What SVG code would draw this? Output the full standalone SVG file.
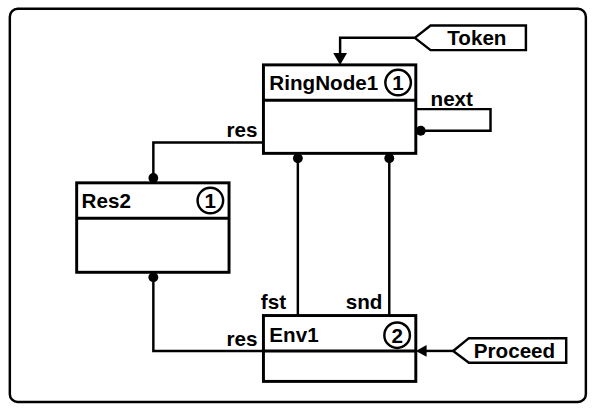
<svg xmlns="http://www.w3.org/2000/svg" width="594" height="411" viewBox="0 0 594 411">
<defs>
<style>
.t{font-family:"Liberation Sans",Arial,sans-serif;font-weight:bold;font-size:21px;fill:#000}
.box{fill:#fff;stroke:#000;stroke-width:3}
.ln{fill:none;stroke:#000;stroke-width:2.5}
.dot{fill:#000}
.circ{fill:none;stroke:#000;stroke-width:2.5}
</style>
</defs>
<rect width="594" height="411" fill="#fff"/>
<g transform="scale(0.983)">
<rect x="10" y="9" width="586" height="400" rx="8" fill="none" stroke="#000" stroke-width="2.5"/>

<g id="connectors">
  <path class="ln" d="M422,38.5 H346 V56"/>
  <polygon points="339,54 353,54 346,66" fill="#000"/>
  <path class="ln" d="M423,111 H499 V133 H428"/>
  <circle class="dot" cx="428" cy="133" r="5"/>
  <path class="ln" d="M268,145 H156 V181"/>
  <circle class="dot" cx="156" cy="181" r="5"/>
  <path class="ln" d="M303,161 V321"/>
  <circle class="dot" cx="303" cy="161" r="5"/>
  <path class="ln" d="M396,161 V321"/>
  <circle class="dot" cx="396" cy="161" r="5"/>
  <path class="ln" d="M156,282 V357 H268"/>
  <circle class="dot" cx="156" cy="282" r="5"/>
  <path class="ln" d="M461,357 H432"/>
  <polygon points="423,357 434,351 434,363" fill="#000"/>
  <text class="t" x="438" y="108">next</text>
  <text class="t" x="262" y="139" text-anchor="end">res</text>
  <text class="t" x="291" y="314" text-anchor="end">fst</text>
  <text class="t" x="389" y="314" text-anchor="end">snd</text>
  <text class="t" x="262" y="352" text-anchor="end">res</text>
</g>

<g id="Token">
  <polygon class="ln" points="422,38.5 438,26 535,26 535,51 438,51"/>
  <text class="t" x="455" y="46">Token</text>
</g>

<g id="Proceed">
  <polygon class="ln" points="461,357 477,344 576,344 576,369 477,369"/>
  <text class="t" x="482" y="364">Proceed</text>
</g>

<g id="RingNode1">
  <rect class="box" x="268" y="66" width="155" height="90"/>
  <line x1="268" y1="102" x2="423" y2="102" stroke="#000" stroke-width="3"/>
  <text class="t" x="274" y="92">RingNode1</text>
  <circle class="circ" cx="405" cy="84" r="13"/>
  <text class="t" x="405" y="91.5" text-anchor="middle">1</text>
</g>

<g id="Res2">
  <rect class="box" x="78" y="186" width="155" height="91"/>
  <line x1="78" y1="222" x2="233" y2="222" stroke="#000" stroke-width="3"/>
  <text class="t" x="83" y="212">Res2</text>
  <circle class="circ" cx="214" cy="204" r="13"/>
  <text class="t" x="214" y="211.5" text-anchor="middle">1</text>
</g>

<g id="Env1">
  <rect class="box" x="268" y="321" width="155" height="67"/>
  <line x1="268" y1="357" x2="423" y2="357" stroke="#000" stroke-width="3"/>
  <text class="t" x="274" y="348">Env1</text>
  <circle class="circ" cx="404" cy="341" r="13"/>
  <text class="t" x="404" y="348.5" text-anchor="middle">2</text>
</g>
</g>
</svg>
